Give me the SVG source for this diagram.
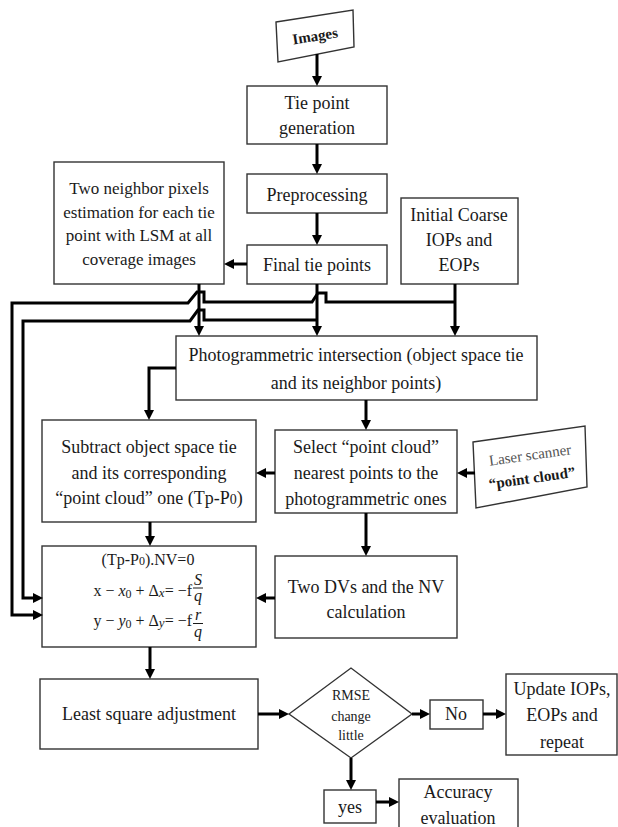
<svg xmlns="http://www.w3.org/2000/svg" width="618" height="827" viewBox="0 0 618 827">
<defs>
<marker id="ah" markerUnits="userSpaceOnUse" markerWidth="10" markerHeight="10" refX="2" refY="5" orient="auto">
<path d="M0,0 L10,5 L0,10 z" fill="#000"/>
</marker>
<style>
.box{fill:#fff;stroke:#333;stroke-width:1.4}
.t{font-family:"Liberation Serif","Times New Roman",serif;font-size:18px;fill:#1a1a1a;text-anchor:middle}
.s17{font-size:17px}
.c{fill:none;stroke:#000;stroke-width:3}
.a{marker-end:url(#ah)}
.eq{font-family:"Liberation Serif","Times New Roman",serif;font-size:16px;fill:#1a1a1a}
</style>
</defs>
<rect width="618" height="827" fill="#fff"/>

<g id="images">
<polygon class="box" points="276,22 353,10 354,47 278,62"/>
<text class="t" x="315" y="41" style="font-weight:bold;font-size:15px" transform="rotate(-9 315 36)">Images</text>
</g>
<g id="tiepoint">
<rect class="box" x="247" y="86" width="140" height="58"/>
<text class="t" x="317" y="109">Tie point</text>
<text class="t" x="317" y="134">generation</text>
</g>
<g id="preprocessing">
<rect class="box" x="247" y="174" width="140" height="39"/>
<text class="t" x="317" y="201">Preprocessing</text>
</g>
<g id="finaltie">
<rect class="box" x="247" y="245" width="140" height="39"/>
<text class="t" x="317" y="271">Final tie points</text>
</g>
<g id="twoneighbor">
<rect class="box" x="54" y="162" width="170" height="122"/>
<text class="t s17" x="139" y="194">Two neighbor pixels</text>
<text class="t s17" x="139" y="218">estimation for each tie</text>
<text class="t s17" x="139" y="241">point with LSM at all</text>
<text class="t s17" x="139" y="265">coverage images</text>
</g>
<g id="initial">
<rect class="box" x="401" y="198" width="117" height="86"/>
<text class="t" x="459" y="221">Initial Coarse</text>
<text class="t" x="459" y="246">IOPs and</text>
<text class="t" x="459" y="271">EOPs</text>
</g>
<g id="photo">
<rect class="box" x="176" y="336" width="361" height="64"/>
<text class="t" x="356" y="361">Photogrammetric intersection (object space tie</text>
<text class="t" x="356" y="389">and its neighbor points)</text>
</g>
<g id="subtract">
<rect class="box" x="42" y="420" width="214" height="102"/>
<text class="t" x="149" y="453">Subtract object space tie</text>
<text class="t" x="149" y="479">and its corresponding</text>
<text class="t" x="149" y="504">“point cloud” one (Tp-P<tspan font-size="14">0</tspan>)</text>
</g>
<g id="select">
<rect class="box" x="275" y="430" width="182" height="83"/>
<text class="t" x="366" y="453">Select “point cloud”</text>
<text class="t" x="366" y="479">nearest points to the</text>
<text class="t" x="366" y="505">photogrammetric ones</text>
</g>
<g id="laser">
<polygon class="box" points="473,442 585,426 587,487 476,508"/>
<text class="t" x="530" y="460" style="font-size:15px;fill:#555" transform="rotate(-8 530 455)">Laser scanner</text>
<text class="t" x="532" y="483" style="font-size:15px;font-weight:bold" transform="rotate(-8 532 478)">“point cloud”</text>
</g>
<g id="equation">
<rect class="box" x="42" y="546" width="214" height="101"/>
<text class="eq" x="148" y="565" text-anchor="middle" font-size="15">(Tp-P<tspan font-size="12">0</tspan>).NV=0</text>
<text class="eq" x="192" y="596" text-anchor="end">x − <tspan font-style="italic">x</tspan><tspan font-size="12" dy="2">0</tspan><tspan dy="-2"> + Δ</tspan><tspan font-style="italic" font-size="13" dy="1">x</tspan><tspan dy="-1">= −f</tspan></text>
<text class="eq" x="198" y="585" text-anchor="middle" font-style="italic" font-size="14">S</text>
<line x1="193" y1="588" x2="203" y2="588" stroke="#1a1a1a" stroke-width="1"/>
<text class="eq" x="198" y="601" text-anchor="middle" font-style="italic" font-size="14">q</text>
<text class="eq" x="192" y="626" text-anchor="end">y − <tspan font-style="italic">y</tspan><tspan font-size="12" dy="2">0</tspan><tspan dy="-2"> + Δ</tspan><tspan font-style="italic" font-size="13" dy="1">y</tspan><tspan dy="-1">= −f</tspan></text>
<text class="eq" x="198" y="620" text-anchor="middle" font-style="italic" font-size="14">r</text>
<line x1="193" y1="623.5" x2="203" y2="623.5" stroke="#1a1a1a" stroke-width="1"/>
<text class="eq" x="198" y="637" text-anchor="middle" font-style="italic" font-size="14">q</text>
</g>
<g id="twodvs">
<rect class="box" x="275" y="556" width="182" height="82"/>
<text class="t" x="366" y="593">Two DVs and the NV</text>
<text class="t" x="366" y="618">calculation</text>
</g>
<g id="lsa">
<rect class="box" x="40" y="679" width="218" height="70"/>
<text class="t" x="149" y="720">Least square adjustment</text>
</g>
<g id="rmse">
<polygon class="box" points="289,714 351,668 412,714 351,758"/>
<text class="t" x="351" y="700" style="font-size:14px">RMSE</text>
<text class="t" x="351" y="721" style="font-size:14px">change</text>
<text class="t" x="351" y="740" style="font-size:14px">little</text>
</g>
<g id="no">
<rect class="box" x="430" y="700" width="53" height="29"/>
<text class="t" x="456" y="720">No</text>
</g>
<g id="update">
<rect class="box" x="506" y="674" width="111" height="81"/>
<text class="t" x="562" y="695">Update IOPs,</text>
<text class="t" x="562" y="721">EOPs and</text>
<text class="t" x="562" y="748">repeat</text>
</g>
<g id="yes">
<rect class="box" x="324" y="790" width="52" height="33"/>
<text class="t" x="350" y="813">yes</text>
</g>
<g id="accuracy">
<rect class="box" x="399" y="779" width="119" height="60"/>
<text class="t" x="458" y="798">Accuracy</text>
<text class="t" x="458" y="824">evaluation</text>
</g>

<g id="connectors">
<path class="c a" d="M317,54 V78"/>
<path class="c a" d="M317,144 V166"/>
<path class="c a" d="M317,213 V237"/>
<path class="c a" d="M247,264 H232"/>
<path class="c a" d="M199,284 V328"/>
<path class="c a" d="M317,284 V328"/>
<path class="c a" d="M455,284 V328"/>
<path class="c a" d="M455,302 H326 V293 H318 L312,302 H204 V292 H197 L188,303 H12 V615 H35"/>
<path class="c a" d="M317,320 H204 V310 H198 L190,321 H23 V598 H35"/>
<path class="c a" d="M176,368 H149 V412"/>
<path class="c a" d="M366,400 V422"/>
<path class="c a" d="M475,473 H465"/>
<path class="c a" d="M275,473 H264"/>
<path class="c a" d="M150,522 V538"/>
<path class="c a" d="M366,513 V548"/>
<path class="c a" d="M275,598 H264"/>
<path class="c a" d="M150,647 V671"/>
<path class="c a" d="M258,714 H281"/>
<path class="c a" d="M412,714 H422"/>
<path class="c a" d="M483,714 H498"/>
<path class="c a" d="M351,758 V782"/>
<path class="c a" d="M376,802 H391"/>
</g>
</svg>
